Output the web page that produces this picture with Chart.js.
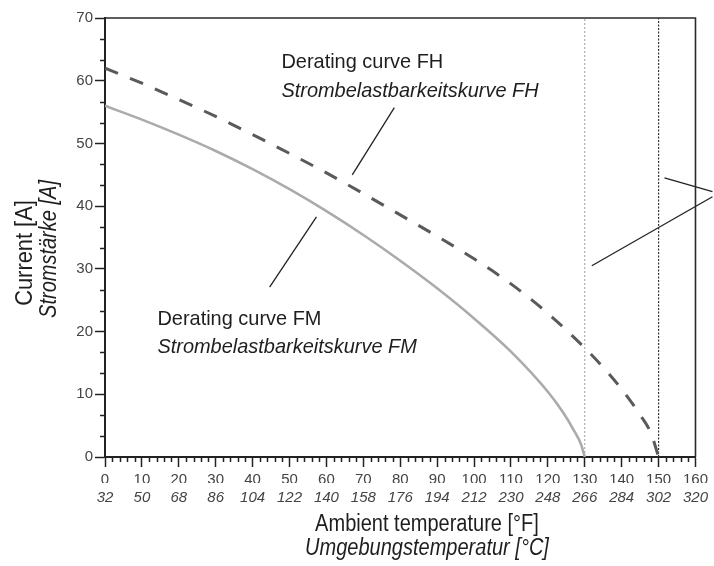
<!DOCTYPE html>
<html>
<head>
<meta charset="utf-8">
<script src="https://cdn.jsdelivr.net/npm/chart.js@4/dist/chart.umd.min.js"></script>
<style>
  html, body { margin: 0; padding: 0; background: #fff; }
</style>
</head>
<body>
<canvas id="myChart" width="714" height="566"></canvas>
<script>
// ambient temperature (°C) ticks and the matching °F labels
const celsiusTicks = [0, 10, 20, 30, 40, 50, 60, 70, 80, 90, 100, 110, 120, 130, 140, 150, 160]
const fahrenheitLabels = ['32', '50', '68', '86', '104', '122', '140', '158', '176', '194', '212', '230', '248', '266', '284', '302', '320']

// derating curve FM (solid grey)
const fmTemp = [0, 10, 20, 30, 40, 50, 60, 70, 80, 90, 100, 110, 120, 124, 127, 129, 130]
const fmCurrent = [56, 53.8, 51.4, 48.8, 45.9, 42.7, 39.2, 35.4, 31.3, 26.9, 22.1, 16.8, 10.4, 7.2, 4.3, 2.0, 0]

// derating curve FH (dashed)
const fhTemp = [0, 10, 20, 30, 40, 50, 60, 70, 80, 90, 100, 110, 120, 130, 135, 140, 145, 148, 150]
const fhCurrent = [62, 59.6, 57.0, 54.3, 51.4, 48.4, 45.3, 42.0, 38.6, 35.2, 31.6, 27.6, 22.9, 17.4, 14.3, 10.8, 6.7, 3.7, 0]

// max temperature markers
const limitFM = 130
const limitFH = 150

// leader lines [temp, current] pairs
const fhLeader = [[78.4, 55.7], [67.0, 45.0]]
const fmLeader = [[57.3, 38.3], [44.6, 27.1]]
const rightLeaderA = [[151.6, 44.5], [164.6, 42.3]]
const rightLeaderB = [[131.9, 30.5], [164.6, 41.5]]

const FONT = '"Liberation Sans", Arial, sans-serif'
const toPts = (xs, ys) => xs.map((x, i) => ({ x: x, y: ys[i] }))
const pairPts = arr => arr.map(p => ({ x: p[0], y: p[1] }))

function drawText(ctx, text, x, y, size, italic, sx, rot) {
    ctx.save()
    ctx.translate(x, y)
    if (rot) ctx.rotate(rot)
    ctx.scale(sx, 1)
    ctx.font = (italic ? 'italic ' : '') + size + 'px ' + FONT
    ctx.fillStyle = '#1e1e1e'
    ctx.textBaseline = 'alphabetic'
    ctx.textAlign = rot ? 'center' : (text.center ? 'center' : 'left')
    ctx.fillText(text.str || text, 0, 0)
    ctx.restore()
}

const decor = {
    id: 'decor',
    afterDraw(chart) {
        const { ctx, chartArea: a } = chart
        const x = chart.scales.x, y = chart.scales.y
        ctx.save()
        // frame top and right
        ctx.strokeStyle = '#2a2a2a'
        ctx.lineWidth = 1.6
        ctx.beginPath()
        ctx.moveTo(a.left, a.top)
        ctx.lineTo(a.right, a.top)
        ctx.lineTo(a.right, a.bottom)
        ctx.stroke()
        // minor ticks
        ctx.strokeStyle = '#222'
        ctx.lineWidth = 1.5
        ctx.beginPath()
        for (let v = 0; v <= 160; v += 2) {
            if (v % 10 === 0) continue
            const px = Math.round(x.getPixelForValue(v)) + 0.5
            ctx.moveTo(px, a.bottom)
            ctx.lineTo(px, a.bottom + 5)
        }
        for (let k = 0; k <= 21; k++) {
            if (k % 3 === 0) continue
            const py = Math.round(y.getPixelForValue(k * 10 / 3)) + 0.5
            ctx.moveTo(a.left, py)
            ctx.lineTo(a.left - 5, py)
        }
        ctx.stroke()
        ctx.restore()

        // curve labels
        const fhX = x.getPixelForValue(47.8)
        drawText(ctx, 'Derating curve FH', fhX, y.getPixelForValue(62.0), 21, false, 0.95)
        drawText(ctx, 'Strombelastbarkeitskurve FH', fhX, y.getPixelForValue(57.4), 21, true, 0.95)
        const fmX = x.getPixelForValue(14.2)
        drawText(ctx, 'Derating curve FM', fmX, y.getPixelForValue(21.0), 21, false, 0.95)
        drawText(ctx, 'Strombelastbarkeitskurve FM', fmX, y.getPixelForValue(16.6), 21, true, 0.95)

        // axis titles
        drawText(ctx, { str: 'Ambient temperature [°F]', center: true }, 427, 531, 23, false, 0.87)
        drawText(ctx, { str: 'Umgebungstemperatur [°C]', center: true }, 427, 555, 23, true, 0.87)
        drawText(ctx, 'Current [A]', 32, 253, 23, false, 0.95, -Math.PI / 2)
        drawText(ctx, 'Stromstärke [A]', 56, 249, 23, true, 0.87, -Math.PI / 2)
    }
}

const ctx = document.getElementById('myChart').getContext('2d')
const chart = new Chart(ctx, {
    type: 'line',
    data: {
        datasets: [
            { data: toPts(fmTemp, fmCurrent), borderColor: '#ababab', borderWidth: 2.6, cubicInterpolationMode: 'monotone' },
            { data: toPts(fhTemp, fhCurrent), borderColor: '#5a5a5a', borderWidth: 3, borderDash: [14, 13], cubicInterpolationMode: 'monotone' },
            { data: [{ x: limitFM, y: 0 }, { x: limitFM, y: 70 }], borderColor: '#9a9a9a', borderWidth: 1, borderDash: [2, 2] },
            { data: [{ x: limitFH, y: 0 }, { x: limitFH, y: 70 }], borderColor: '#333', borderWidth: 1.2, borderDash: [2, 1.5] },
            { data: pairPts(fhLeader), borderColor: '#222', borderWidth: 1.3 },
            { data: pairPts(fmLeader), borderColor: '#222', borderWidth: 1.3 },
            { data: pairPts(rightLeaderA), borderColor: '#222', borderWidth: 1.3, clip: false },
            { data: pairPts(rightLeaderB), borderColor: '#222', borderWidth: 1.3, clip: false }
        ]
    },
    options: {
        responsive: false,
        animation: false,
        devicePixelRatio: 1,
        elements: { point: { radius: 0 }, line: { tension: 0 } },
        layout: { padding: { top: 18, right: 17, left: 0, bottom: 0 } },
        plugins: { legend: { display: false }, tooltip: { enabled: false } },
        scales: {
            x: {
                type: 'linear', position: 'bottom', min: 0, max: 160,
                afterBuildTicks: s => { s.ticks = celsiusTicks.map(v => ({ value: v })) },
                ticks: { padding: 4, color: '#444', font: { family: FONT, size: 15 }, maxRotation: 0, autoSkip: false },
                grid: { drawOnChartArea: false, tickLength: 10, tickWidth: 1.5, tickColor: '#222' },
                border: { color: '#222', width: 2 },
                afterFit: s => { s.height = 26 }
            },
            xf: {
                type: 'linear', position: 'bottom', min: 0, max: 160,
                afterBuildTicks: s => { s.ticks = celsiusTicks.map(v => ({ value: v })) },
                ticks: {
                    padding: 6, color: '#444', font: { family: FONT, size: 15, style: 'italic' }, maxRotation: 0, autoSkip: false,
                    callback: v => fahrenheitLabels[celsiusTicks.indexOf(v)]
                },
                grid: { display: false, drawTicks: false },
                border: { display: false },
                afterFit: s => { s.height = 83 }
            },
            y: {
                min: 0, max: 70,
                ticks: { stepSize: 10, padding: 2, color: '#444', font: { family: FONT, size: 15 } },
                grid: { drawOnChartArea: false, tickLength: 10, tickWidth: 1.5, tickColor: '#222' },
                border: { color: '#222', width: 2 },
                afterFit: s => { s.width = 105 }
            }
        }
    },
    plugins: [decor]
})
</script>
</body>
</html>
